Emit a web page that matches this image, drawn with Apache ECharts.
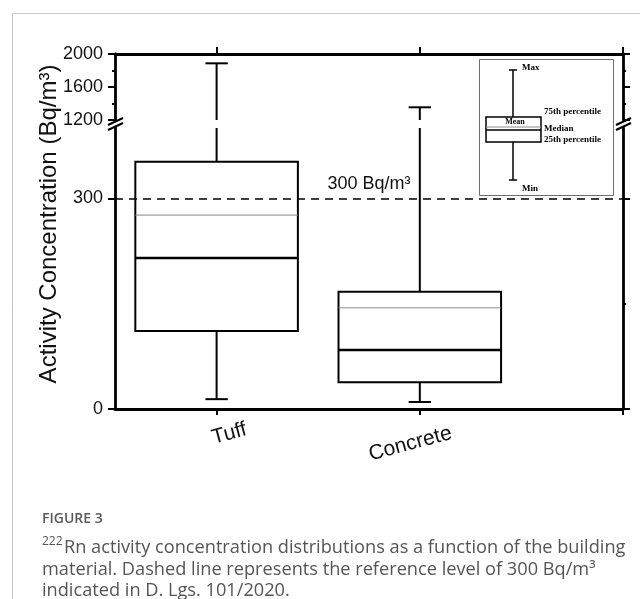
<!DOCTYPE html>
<html>
<head>
<meta charset="utf-8">
<script src="https://cdn.jsdelivr.net/npm/echarts@6/dist/echarts.min.js"></script>
<style>
html, body { margin: 0; padding: 0; background: #fff; }
#chart { width: 640px; height: 599px; }
</style>
</head>
<body>
<div id="chart"></div>
<script>
// Radon activity concentration by building material (Bq/m³)
const categories = ['Tuff', 'Concrete'];
const minValues = [14, 10];
const q1Values = [111, 38];
const medianValues = [215, 84];
const meanValues = [276, 144];
const q3Values = [352, 167];
const maxValues = [1887, 1354];
const referenceLevel = 300;
const lowerTickValues = [0, 300];
const lowerMinorTickValues = [150];
const categoryPositions = [0, 1];

// Broken value axis: a lower linear segment and a compressed upper segment
const LOWER_RANGE = [0, 400];
const UPPER_RANGE = [1200, 2000];
const UPPER_INTERVAL = 400;
const X_RANGE = [-0.5, 2];

// Layout of the two stacked grids (pixels)
const PLOT_LEFT = 115, PLOT_RIGHT = 623;
const UPPER_TOP = 54, UPPER_BOTTOM = 120;
const LOWER_TOP = 128, LOWER_BOTTOM = 409;

const BOX_HALF = 0.4;
const CAP_HALF = 0.055;
const INK = '#111';
const AXIS_W = 2.8;

const boxData = categories.map((c, i) => [
  categoryPositions[i], minValues[i], q1Values[i], medianValues[i],
  meanValues[i], q3Values[i], maxValues[i]
]);

function seg(a, b, style) {
  return { type: 'line', shape: { x1: a[0], y1: a[1], x2: b[0], y2: b[1] }, style: style };
}

const whiskerStyle = { stroke: '#000', lineWidth: 2 };

function renderLower(params, api) {
  const x = api.value(0), mn = api.value(1), q1 = api.value(2), med = api.value(3);
  const mean = api.value(4), q3 = api.value(5), mx = api.value(6);
  const p = (xv, yv) => api.coord([xv, yv]);
  const top = Math.min(mx, LOWER_RANGE[1]);
  const children = [
    seg(p(x, q3), p(x, top), whiskerStyle),
    seg(p(x, q1), p(x, mn), whiskerStyle),
    seg(p(x - CAP_HALF, mn), p(x + CAP_HALF, mn), whiskerStyle)
  ];
  if (mx <= LOWER_RANGE[1]) {
    children.push(seg(p(x - CAP_HALF, mx), p(x + CAP_HALF, mx), whiskerStyle));
  }
  const a = p(x - BOX_HALF, q3), b = p(x + BOX_HALF, q1);
  children.push({
    type: 'rect',
    shape: { x: a[0], y: a[1], width: b[0] - a[0], height: b[1] - a[1] },
    style: { fill: '#fff', stroke: '#000', lineWidth: 2 }
  });
  children.push(seg(p(x - BOX_HALF, mean), p(x + BOX_HALF, mean), { stroke: '#8c8c8c', lineWidth: 1 }));
  children.push(seg(p(x - BOX_HALF, med), p(x + BOX_HALF, med), { stroke: '#000', lineWidth: 2.5 }));
  return { type: 'group', children: children };
}

function renderUpper(params, api) {
  const x = api.value(0), mx = api.value(6);
  if (mx < UPPER_RANGE[0]) return null;
  const p = (xv, yv) => api.coord([xv, yv]);
  const top = Math.min(mx, UPPER_RANGE[1]);
  return {
    type: 'group',
    children: [
      seg(p(x, UPPER_RANGE[0]), p(x, top), whiskerStyle),
      seg(p(x - CAP_HALF, top), p(x + CAP_HALF, top), whiskerStyle)
    ]
  };
}

const axisLine = { show: true, onZero: false, lineStyle: { color: '#000', width: AXIS_W } };
const tickStyle = { color: '#000', width: 2 };
const plainNumber = v => String(v);
const tickLabel = {
  show: true, fontSize: 18, color: INK, margin: 12,
  fontFamily: 'Liberation Sans', formatter: plainNumber
};

function valueAxisBase(gridIndex, position, range) {
  return {
    type: 'value', gridIndex: gridIndex, position: position,
    min: range[0], max: range[1],
    axisLine: axisLine,
    splitLine: { show: false }
  };
}

const yAxes = [
  // upper segment, left
  Object.assign(valueAxisBase(0, 'left', UPPER_RANGE), {
    interval: UPPER_INTERVAL,
    axisTick: { show: true, length: 7, lineStyle: tickStyle },
    minorTick: { show: true, splitNumber: 2, length: 3, lineStyle: tickStyle },
    axisLabel: tickLabel
  }),
  // upper segment, right
  Object.assign(valueAxisBase(0, 'right', UPPER_RANGE), {
    interval: UPPER_INTERVAL,
    axisTick: { show: true, length: 7, lineStyle: tickStyle },
    minorTick: { show: true, splitNumber: 2, length: 3, lineStyle: tickStyle },
    axisLabel: { show: false }
  }),
  // lower segment, left
  Object.assign(valueAxisBase(1, 'left', LOWER_RANGE), {
    axisTick: { show: true, length: 7, customValues: lowerTickValues, lineStyle: tickStyle },
    axisLabel: Object.assign({ customValues: lowerTickValues }, tickLabel)
  }),
  // lower segment, right
  Object.assign(valueAxisBase(1, 'right', LOWER_RANGE), {
    axisTick: { show: true, length: 7, customValues: lowerTickValues, lineStyle: tickStyle },
    axisLabel: { show: false }
  }),
  // minor ticks of the lower segment
  Object.assign(valueAxisBase(1, 'left', LOWER_RANGE), {
    axisLine: { show: false },
    axisTick: { show: true, length: 3, customValues: lowerMinorTickValues, lineStyle: tickStyle },
    axisLabel: { show: false }
  }),
  Object.assign(valueAxisBase(1, 'right', LOWER_RANGE), {
    axisLine: { show: false },
    axisTick: { show: true, length: 3, customValues: lowerMinorTickValues, lineStyle: tickStyle },
    axisLabel: { show: false }
  })
];

const xTickValues = categoryPositions.concat([X_RANGE[1]]);

const xAxes = [
  Object.assign(valueAxisBase(0, 'top', X_RANGE), {
    axisTick: { show: true, length: 7, customValues: xTickValues, lineStyle: tickStyle },
    axisLabel: { show: false }
  }),
  Object.assign(valueAxisBase(1, 'bottom', X_RANGE), {
    axisTick: { show: true, length: 6, customValues: xTickValues, lineStyle: tickStyle },
    axisLabel: {
      show: true,
      customValues: categoryPositions,
      rotate: 15,
      align: 'center',
      verticalAlign: 'middle',
      margin: 24,
      formatter: function (v) {
        const i = categoryPositions.indexOf(v);
        return i === 0 ? '{a|' + categories[i] + '}' : '{b|' + categories[i] + '}';
      },
      rich: {
        a: { fontSize: 21, color: INK, fontFamily: 'Liberation Sans', padding: [8, 0, 0, 24] },
        b: { fontSize: 21, color: INK, fontFamily: 'Liberation Sans', padding: [16, 24, 0, 0] }
      }
    }
  })
];

// Break marks across both vertical axes between the two segments
function breakMarks(cx) {
  const midY = (UPPER_BOTTOM + LOWER_TOP) / 2;
  const s = { stroke: '#000', lineWidth: 2 };
  return [
    { type: 'line', shape: { x1: cx - 7, y1: midY + 1, x2: cx + 8, y2: midY - 6 }, style: s, z: 100 },
    { type: 'line', shape: { x1: cx - 7, y1: midY + 6, x2: cx + 8, y2: midY - 1 }, style: s, z: 100 }
  ];
}

// Inset key explaining the box symbols
const KEY_X = 479, KEY_Y = 59;
const keyText = (t, x, y, align, size) => ({
  type: 'text', x: x, y: y,
  style: { text: t, font: 'bold ' + (size || 9) + 'px "Liberation Serif", serif', fill: '#000', align: align || 'left', verticalAlign: 'middle' }
});
const keyGroup = {
  type: 'group', x: KEY_X, y: KEY_Y, z: 50,
  children: [
    { type: 'rect', shape: { x: 0.5, y: 0.5, width: 134, height: 136 }, style: { fill: '#fff', stroke: '#6e6e6e', lineWidth: 1 } },
    { type: 'line', shape: { x1: 34, y1: 11, x2: 34, y2: 121 }, style: { stroke: '#000', lineWidth: 1.5 } },
    { type: 'line', shape: { x1: 30, y1: 11, x2: 38, y2: 11 }, style: { stroke: '#000', lineWidth: 1.5 } },
    { type: 'line', shape: { x1: 30, y1: 121, x2: 38, y2: 121 }, style: { stroke: '#000', lineWidth: 1.5 } },
    { type: 'rect', shape: { x: 7, y: 58, width: 55, height: 25 }, style: { fill: '#fff', stroke: '#000', lineWidth: 1.5 } },
    { type: 'line', shape: { x1: 7, y1: 68, x2: 62, y2: 68 }, style: { stroke: '#8c8c8c', lineWidth: 1 } },
    { type: 'line', shape: { x1: 7, y1: 71, x2: 62, y2: 71 }, style: { stroke: '#000', lineWidth: 1.5 } },
    keyText('Max', 43, 9),
    keyText('Min', 43, 130),
    keyText('Mean', 36, 63, 'center', 8),
    keyText('75th percentile', 65, 53),
    keyText('Median', 65, 70),
    keyText('25th percentile', 65, 81)
  ]
};

const captionFont = '"Open Sans", "Noto Sans", sans-serif';
const captionInk = '#555';
const graphics = [
  // figure frame
  { type: 'line', shape: { x1: 12.5, y1: 13.5, x2: 640, y2: 13.5 }, style: { stroke: '#c8c8c8', lineWidth: 1 } },
  { type: 'line', shape: { x1: 12.5, y1: 13.5, x2: 12.5, y2: 599 }, style: { stroke: '#c8c8c8', lineWidth: 1 } },
  // y axis title
  {
    type: 'text', x: 49, y: 224, rotation: Math.PI / 2,
    style: { text: 'Activity Concentration (Bq/m³)', font: '24px "Liberation Sans", Arial, sans-serif', fill: INK, align: 'center', verticalAlign: 'middle' }
  },
  keyGroup,
  // caption
  { type: 'text', x: 42, y: 519, style: { text: 'FIGURE 3', font: '600 14px ' + captionFont, fill: '#5a5a5a', verticalAlign: 'middle' } },
  { type: 'text', x: 42, y: 542, style: { text: '222', font: '12px ' + captionFont, fill: captionInk, verticalAlign: 'middle' } },
  { type: 'text', x: 64, y: 548, style: { text: 'Rn activity concentration distributions as a function of the building', font: '18.2px ' + captionFont, fill: captionInk, verticalAlign: 'middle' } },
  { type: 'text', x: 42, y: 569.5, style: { text: 'material. Dashed line represents the reference level of 300 Bq/m³', font: '18.2px ' + captionFont, fill: captionInk, verticalAlign: 'middle' } },
  { type: 'text', x: 42, y: 591, style: { text: 'indicated in D. Lgs. 101/2020.', font: '18.2px ' + captionFont, fill: captionInk, verticalAlign: 'middle' } }
].concat(breakMarks(PLOT_LEFT), breakMarks(PLOT_RIGHT));

const chart = echarts.init(document.getElementById('chart'), null, { renderer: 'canvas' });
chart.setOption({
  animation: false,
  backgroundColor: '#fff',
  textStyle: { fontFamily: 'Liberation Sans' },
  grid: [
    { left: PLOT_LEFT, top: UPPER_TOP, width: PLOT_RIGHT - PLOT_LEFT, height: UPPER_BOTTOM - UPPER_TOP },
    { left: PLOT_LEFT, top: LOWER_TOP, width: PLOT_RIGHT - PLOT_LEFT, height: LOWER_BOTTOM - LOWER_TOP }
  ],
  xAxis: xAxes,
  yAxis: yAxes,
  series: [
    {
      type: 'custom', name: 'upper whiskers', xAxisIndex: 0, yAxisIndex: 0,
      renderItem: renderUpper, data: boxData, clip: false, z: 3
    },
    {
      type: 'custom', name: 'boxes', xAxisIndex: 1, yAxisIndex: 2,
      renderItem: renderLower, data: boxData, clip: false, z: 3
    },
    {
      type: 'line', name: 'reference level', xAxisIndex: 1, yAxisIndex: 2, data: [], z: 10,
      markLine: {
        silent: true, symbol: 'none', animation: false,
        lineStyle: { color: '#000', width: 1.6, type: [8, 6] },
        label: { show: true, position: 'insideMiddleTop', formatter: referenceLevel + ' Bq/m³', fontSize: 18, color: INK, distance: 5 },
        data: [{ yAxis: referenceLevel }]
      }
    }
  ],
  graphic: graphics
});
</script>
</body>
</html>
